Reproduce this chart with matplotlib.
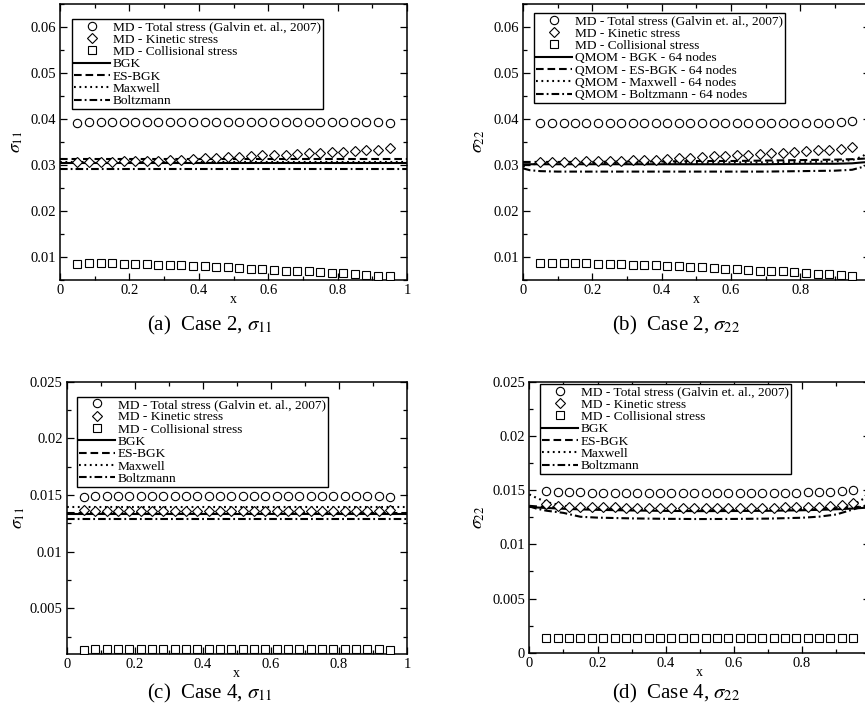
import numpy as np
import matplotlib
matplotlib.use("Agg")
import matplotlib.pyplot as plt
from matplotlib.ticker import MultipleLocator, FuncFormatter
from matplotlib.lines import Line2D

plt.rcParams['font.family'] = ['Liberation Serif', 'DejaVu Serif']
plt.rcParams['mathtext.fontset'] = 'stix'
plt.rcParams['lines.scale_dashes'] = False

# ---------------- data ----------------
MD_X = [0.050, 0.083, 0.117, 0.150, 0.183, 0.217, 0.250, 0.283, 0.317, 0.350,
        0.383, 0.417, 0.450, 0.483, 0.517, 0.550, 0.583, 0.617, 0.650, 0.683,
        0.717, 0.750, 0.783, 0.817, 0.850, 0.883, 0.917, 0.950]

# Case 2, sigma_11
A_TOTAL = [0.0390, 0.0393, 0.0393, 0.0393, 0.0393, 0.0393, 0.0393, 0.0393, 0.0393, 0.0393,
           0.0393, 0.0393, 0.0393, 0.0393, 0.0393, 0.0393, 0.0393, 0.0393, 0.0393, 0.0393,
           0.0393, 0.0393, 0.0393, 0.0393, 0.0393, 0.0393, 0.0393, 0.0390]
A_KIN = [0.0305, 0.0306, 0.0306, 0.0306, 0.0307, 0.0308, 0.0308, 0.0309, 0.0310, 0.0311,
         0.0312, 0.0314, 0.0315, 0.0316, 0.0317, 0.0319, 0.0320, 0.0321, 0.0322, 0.0324,
         0.0325, 0.0326, 0.0327, 0.0328, 0.0330, 0.0331, 0.0333, 0.0336]
A_COL = [0.0084, 0.0086, 0.0086, 0.0086, 0.0085, 0.0085, 0.0084, 0.0083, 0.0082, 0.0081,
         0.0080, 0.0079, 0.0078, 0.0077, 0.0075, 0.0074, 0.0073, 0.0071, 0.0070, 0.0069,
         0.0068, 0.0066, 0.0065, 0.0064, 0.0062, 0.0061, 0.0059, 0.0057]
A_LX = [0.0, 0.1, 0.2, 0.3, 0.4, 0.5, 0.6, 0.7, 0.8, 0.9, 1.0]
A_BGK = [0.0304, 0.0304, 0.0304, 0.0304, 0.0304, 0.0304, 0.0304, 0.0304, 0.0304, 0.0304, 0.0304]
A_ESBGK = [0.0312, 0.0312, 0.0312, 0.0312, 0.0312, 0.0312, 0.0312, 0.0312, 0.0312, 0.0312, 0.0312]
A_MAXW = [0.0305, 0.0305, 0.0305, 0.0305, 0.0305, 0.0305, 0.0305, 0.0305, 0.0305, 0.0305, 0.0305]
A_BOLTZ = [0.0290, 0.0290, 0.0290, 0.0290, 0.0290, 0.0290, 0.0290, 0.0290, 0.0290, 0.0290, 0.0290]

# Case 2, sigma_22
B_TOTAL = [0.0390, 0.0390, 0.0390, 0.0390, 0.0390, 0.0390, 0.0390, 0.0390, 0.0390, 0.0390,
           0.0390, 0.0390, 0.0390, 0.0390, 0.0390, 0.0390, 0.0390, 0.0390, 0.0390, 0.0390,
           0.0390, 0.0390, 0.0390, 0.0390, 0.0390, 0.0391, 0.0393, 0.0396]
B_KIN = [0.0305, 0.0305, 0.0306, 0.0306, 0.0307, 0.0307, 0.0308, 0.0309, 0.0310, 0.0310,
         0.0311, 0.0313, 0.0314, 0.0315, 0.0316, 0.0318, 0.0319, 0.0320, 0.0322, 0.0323,
         0.0325, 0.0326, 0.0328, 0.0329, 0.0331, 0.0333, 0.0335, 0.0339]
B_COL = [0.0086, 0.0086, 0.0086, 0.0086, 0.0086, 0.0085, 0.0084, 0.0084, 0.0083, 0.0082,
         0.0081, 0.0080, 0.0079, 0.0078, 0.0077, 0.0076, 0.0074, 0.0073, 0.0072, 0.0070,
         0.0069, 0.0068, 0.0066, 0.0065, 0.0063, 0.0062, 0.0060, 0.0059]
B_LX = [0.0, 0.02, 0.05, 0.1, 0.2, 0.3, 0.4, 0.5, 0.6, 0.7, 0.8, 0.9, 0.95, 0.98, 1.0]
B_BGK = [0.0301, 0.0301, 0.0301, 0.0301, 0.0301, 0.0301, 0.0301, 0.0301, 0.0301, 0.0301,
         0.0302, 0.0302, 0.0303, 0.0305, 0.0306]
B_ESBGK = [0.0306, 0.0306, 0.0306, 0.0306, 0.0306, 0.0307, 0.0307, 0.0308, 0.0308, 0.0309,
           0.0310, 0.0311, 0.0312, 0.0313, 0.0314]
B_MAXW = [0.0296, 0.0300, 0.0303, 0.0304, 0.0304, 0.0304, 0.0304, 0.0304, 0.0305, 0.0305,
          0.0306, 0.0307, 0.0310, 0.0318, 0.0330]
B_BOLTZ = [0.0292, 0.0288, 0.0286, 0.0285, 0.0285, 0.0285, 0.0285, 0.0285, 0.0285, 0.0285,
           0.0286, 0.0287, 0.0289, 0.0295, 0.0302]

# Case 4, sigma_11
C_TOTAL = [0.01485, 0.0149, 0.0149, 0.0149, 0.0149, 0.0149, 0.0149, 0.0149, 0.0149, 0.0149,
           0.0149, 0.0149, 0.0149, 0.0149, 0.0149, 0.0149, 0.0149, 0.0149, 0.0149, 0.0149,
           0.0149, 0.0149, 0.0149, 0.0149, 0.0149, 0.0149, 0.0149, 0.01485]
C_KIN = [0.0137, 0.0136, 0.0136, 0.0136, 0.0136, 0.01355, 0.01355, 0.01355, 0.01355, 0.01355,
         0.01355, 0.01355, 0.01355, 0.01355, 0.01355, 0.01355, 0.01355, 0.01355, 0.01355, 0.01355,
         0.01355, 0.01355, 0.01355, 0.0136, 0.0136, 0.0136, 0.0136, 0.0137]
C_COL = [0.00135, 0.00137, 0.00137, 0.00137, 0.00137, 0.00137, 0.00137, 0.00137, 0.00137, 0.00137,
         0.00137, 0.00137, 0.00137, 0.00137, 0.00137, 0.00137, 0.00137, 0.00137, 0.00137, 0.00137,
         0.00137, 0.00137, 0.00137, 0.00137, 0.00137, 0.00137, 0.00137, 0.00135]
C_LX = [0.0, 0.1, 0.2, 0.3, 0.4, 0.5, 0.6, 0.7, 0.8, 0.9, 1.0]
C_BGK = [0.01333, 0.01333, 0.01333, 0.01333, 0.01333, 0.01333, 0.01333, 0.01333, 0.01333, 0.01333, 0.01333]
C_ESBGK = [0.01345, 0.01345, 0.01345, 0.01345, 0.01345, 0.01345, 0.01345, 0.01345, 0.01345, 0.01345, 0.01345]
C_MAXW = [0.0139, 0.0139, 0.0139, 0.0139, 0.0139, 0.0139, 0.0139, 0.0139, 0.0139, 0.0139, 0.0139]
C_BOLTZ = [0.01288, 0.01288, 0.01288, 0.01288, 0.01288, 0.01288, 0.01288, 0.01288, 0.01288, 0.01288, 0.01288]

# Case 4, sigma_22
D_TOTAL = [0.0149, 0.0148, 0.0148, 0.0148, 0.0147, 0.0147, 0.0147, 0.0147, 0.0147, 0.0147,
           0.0147, 0.0147, 0.0147, 0.0147, 0.0147, 0.0147, 0.0147, 0.0147, 0.0147, 0.0147,
           0.0147, 0.0147, 0.0147, 0.0148, 0.0148, 0.0148, 0.0149, 0.0150]
D_KIN = [0.01368, 0.01355, 0.01346, 0.01345, 0.01342, 0.0134, 0.0134, 0.01338, 0.01337, 0.01337,
         0.01337, 0.01336, 0.01336, 0.01336, 0.01336, 0.01336, 0.01336, 0.01337, 0.01337, 0.01338,
         0.01339, 0.0134, 0.0134, 0.01342, 0.01345, 0.0135, 0.0136, 0.01377]
D_COL = [0.00137, 0.00137, 0.00137, 0.00137, 0.00137, 0.00137, 0.00137, 0.00137, 0.00137, 0.00137,
         0.00137, 0.00137, 0.00137, 0.00137, 0.00137, 0.00137, 0.00137, 0.00137, 0.00137, 0.00137,
         0.00137, 0.00137, 0.00137, 0.00137, 0.00137, 0.00137, 0.00137, 0.00137]
D_LX = [0.0, 0.02, 0.05, 0.1, 0.15, 0.2, 0.3, 0.4, 0.5, 0.6, 0.7, 0.8, 0.85, 0.9, 0.95, 0.98, 1.0]
D_BGK = [0.01345, 0.0134, 0.01335, 0.01328, 0.01322, 0.01318, 0.01312, 0.01308, 0.01306, 0.01307,
         0.01309, 0.01314, 0.01318, 0.01323, 0.0133, 0.01336, 0.0134]
D_ESBGK = [0.01355, 0.0135, 0.01345, 0.01338, 0.01332, 0.01328, 0.01322, 0.01318, 0.01316, 0.01317,
           0.01319, 0.01324, 0.01328, 0.01333, 0.01342, 0.0135, 0.01358]
D_MAXW = [0.0146, 0.0143, 0.0139, 0.01355, 0.0134, 0.01332, 0.01322, 0.01316, 0.01314, 0.01316,
          0.0132, 0.01326, 0.01332, 0.0134, 0.01365, 0.0142, 0.0151]
D_BOLTZ = [0.01352, 0.0133, 0.0131, 0.0129, 0.01254, 0.01246, 0.01239, 0.01235, 0.01233, 0.01234,
           0.01237, 0.01245, 0.01255, 0.01275, 0.01322, 0.01352, 0.0137]

MD_LABELS = ['MD - Total stress (Galvin et. al., 2007)', 'MD - Kinetic stress',
             'MD - Collisional stress']
MODEL_LABELS = ['BGK', 'ES-BGK', 'Maxwell', 'Boltzmann']
QMOM_LABELS = ['QMOM - BGK - 64 nodes', 'QMOM - ES-BGK - 64 nodes',
               'QMOM - Maxwell - 64 nodes', 'QMOM - Boltzmann - 64 nodes']
CAPTIONS = [r'(a)  Case 2, $\sigma_{11}$', r'(b)  Case 2, $\sigma_{22}$',
            r'(c)  Case 4, $\sigma_{11}$', r'(d)  Case 4, $\sigma_{22}$']
YLABELS = [r'$\sigma_{11}$', r'$\sigma_{22}$', r'$\sigma_{11}$', r'$\sigma_{22}$']
XTICKS = [0, 0.2, 0.4, 0.6, 0.8, 1.0]

# ---------------- figure ----------------
W, H = 865, 727
fig = plt.figure(figsize=(W / 100, H / 100), dpi=100)


def px_axes(left, right, top, bottom):
    return fig.add_axes([left / W, 1 - bottom / H, (right - left) / W, (bottom - top) / H])


LINE_STYLES = [
    dict(linestyle='-'),
    dict(dashes=(5.5, 2.8)),
    dict(dashes=(1.3, 2.6)),
    dict(dashes=(5.5, 2.2, 1.3, 2.2)),
]
MARKERS = ['o', 'D', 's']
MSIZES = [6.0, 4.6, 5.2]


def fmt(v, pos):
    return '%g' % round(v, 6)


def draw(ax, total, kin, col, lx, lines, labels, ylim, yminor, yticks,
         ylabel, ylab_x, leg_xy, hide_last_x=False):
    for vals, m, ms in zip([total, kin, col], MARKERS, MSIZES):
        ax.plot(MD_X, vals, linestyle='none', marker=m, ms=ms, mfc='white',
                mec='black', mew=0.8, zorder=3)
    for vals, st in zip(lines, LINE_STYLES):
        ax.plot(lx, vals, color='black', lw=1.5, zorder=2, **st)
    ax.set_xlim(0, 1)
    ax.set_ylim(*ylim)
    ax.set_xticks(XTICKS)
    xl = [fmt(v, None) for v in XTICKS]
    if hide_last_x:
        xl[-1] = ''
    ax.set_xticklabels(xl)
    ax.xaxis.set_minor_locator(MultipleLocator(0.1))
    ax.set_yticks(yticks)
    ax.yaxis.set_minor_locator(MultipleLocator(yminor))
    ax.yaxis.set_major_formatter(FuncFormatter(fmt))
    ax.tick_params(which='both', direction='in', top=True, right=True,
                   labelsize=10.5, width=0.9)
    ax.tick_params(which='major', length=5, pad=3)
    ax.tick_params(which='minor', length=2.8)
    for sp in ax.spines.values():
        sp.set_linewidth(1.1)
    ax.set_xlabel('x', fontsize=10, labelpad=-2.5)
    ax.set_ylabel(ylabel, fontsize=13)
    ax.yaxis.set_label_coords(ylab_x, 0.5)

    handles = []
    for m, ms in zip(MARKERS, MSIZES):
        handles.append(Line2D([], [], linestyle='none', marker=m, ms=ms, mfc='white',
                              mec='black', mew=0.8))
    for st in LINE_STYLES:
        handles.append(Line2D([], [], color='black', lw=1.5, **st))
    leg = ax.legend(handles, MD_LABELS + labels, loc='upper left', bbox_to_anchor=leg_xy,
                    borderaxespad=0, fontsize=9.6, frameon=True, fancybox=False,
                    framealpha=1, edgecolor='black', labelspacing=0.0,
                    handlelength=2.7, handletextpad=0.22, borderpad=0.15,
                    numpoints=1)
    leg.get_frame().set_linewidth(1.0)


axA = px_axes(60, 407, 3.7, 279.7)
draw(axA, A_TOTAL, A_KIN, A_COL, A_LX, [A_BGK, A_ESBGK, A_MAXW, A_BOLTZ], MODEL_LABELS,
     (0.005, 0.065), 0.005, [0.01, 0.02, 0.03, 0.04, 0.05, 0.06], YLABELS[0], -0.10,
     (0.0346, 0.9446))

axB = px_axes(523, 869.5, 3.7, 279.7)
draw(axB, B_TOTAL, B_KIN, B_COL, B_LX, [B_BGK, B_ESBGK, B_MAXW, B_BOLTZ], QMOM_LABELS,
     (0.005, 0.065), 0.005, [0.01, 0.02, 0.03, 0.04, 0.05, 0.06], YLABELS[1], -0.103,
     (0.0317, 0.966), hide_last_x=True)

axC = px_axes(66.7, 407, 381.7, 653.6)
draw(axC, C_TOTAL, C_KIN, C_COL, C_LX, [C_BGK, C_ESBGK, C_MAXW, C_BOLTZ], MODEL_LABELS,
     (0.001, 0.025), 0.0025, [0.005, 0.01, 0.015, 0.02, 0.025], YLABELS[2], -0.116,
     (0.030, 0.9448))

axD = px_axes(529.3, 870.3, 381.7, 652.7)
draw(axD, D_TOTAL, D_KIN, D_COL, D_LX, [D_BGK, D_ESBGK, D_MAXW, D_BOLTZ], MODEL_LABELS,
     (0.0, 0.025), 0.0025, [0, 0.005, 0.01, 0.015, 0.02, 0.025], YLABELS[3], -0.124,
     (0.031, 0.9915), hide_last_x=True)

for (cx, cy), cap in zip([(210, 325), (676, 325), (210, 693), (676, 693)], CAPTIONS):
    fig.text(cx / W, 1 - cy / H, cap, ha='center', va='center', fontsize=15)

fig.savefig('out.png', dpi=100)
